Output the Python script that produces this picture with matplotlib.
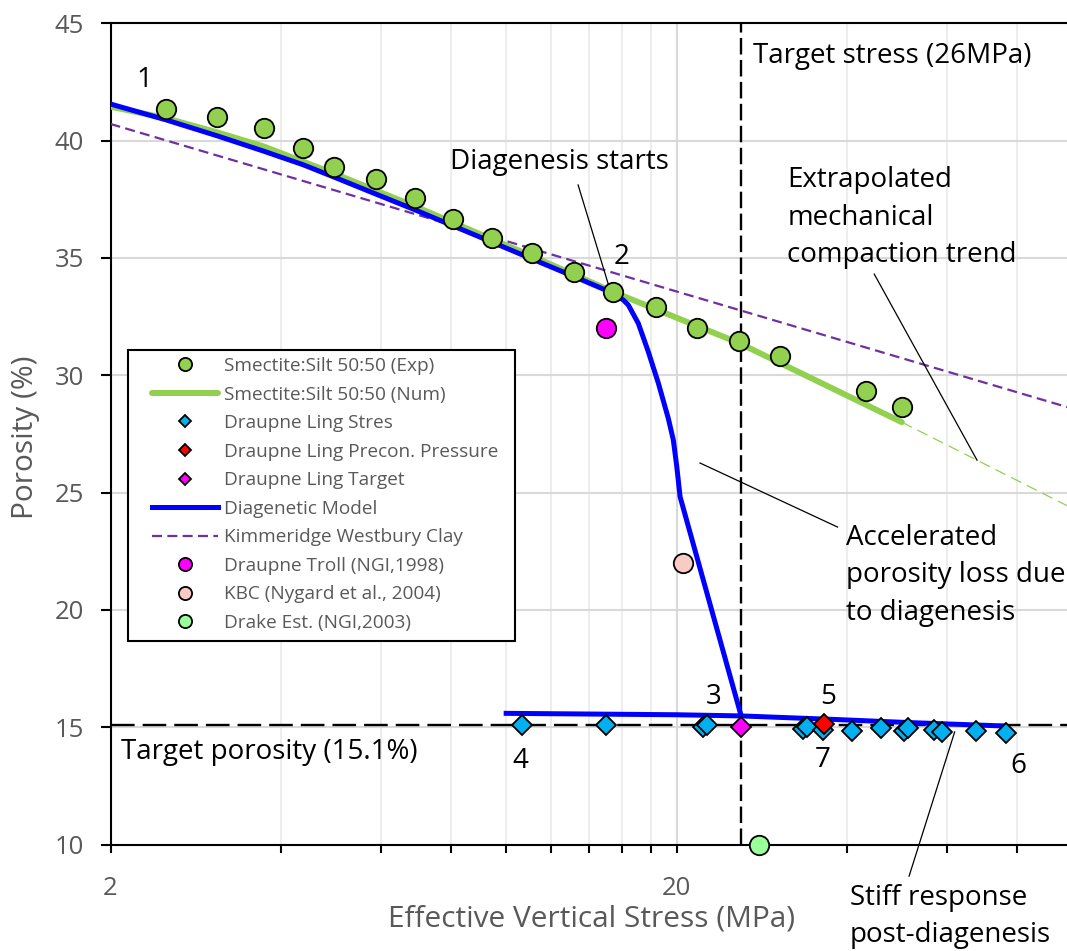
import matplotlib
matplotlib.use("Agg")
import matplotlib.pyplot as plt
from matplotlib.patches import Rectangle
import numpy as np

plt.rcParams['font.family'] = ['Open Sans', 'DejaVu Sans']

# ---------------- data ----------------
exp_x = [2.51, 3.09, 3.73, 4.38, 4.96, 5.89, 6.90, 8.05, 9.43, 11.1, 13.2, 15.46, 18.38, 21.7, 25.8, 30.5, 43.3, 50.0]
exp_y = [41.35, 41.02, 40.52, 39.70, 38.86, 38.36, 37.54, 36.66, 35.85, 35.19, 34.39, 33.55, 32.89, 32.02, 31.45, 30.81, 29.33, 28.66]

num_x = [2.0, 2.51, 3.09, 3.73, 4.96, 6.9, 9.43, 11.1, 15.46, 25.8, 50.0]
num_y = [41.45, 40.95, 40.35, 39.75, 38.6, 37.2, 35.8, 35.08, 33.55, 31.37, 28.0]
num_ext_x = [50.0, 100.0]
num_ext_y = [28.0, 24.33]

stres_x = [10.66, 14.99, 22.3, 22.66, 33.5, 33.96, 36.26, 40.8, 45.9, 50.5, 51.3, 56.9, 59.0, 67.6, 76.3]
stres_y = [15.09, 15.09, 15.02, 15.09, 14.91, 15.02, 14.88, 14.85, 14.95, 14.85, 14.95, 14.88, 14.81, 14.83, 14.77]

precon_x = [36.5]
precon_y = [15.12]

target_x = [26.0]
target_y = [15.0]

diag_x = [2.0, 2.51, 3.09, 3.73, 4.38, 4.96, 5.89, 6.9, 8.05, 9.43, 11.1, 13.2, 15.46, 16.1, 16.44,
          17.12, 17.83, 18.58, 19.34, 19.74, 20.02, 20.29, 26.0]
diag_y = [41.56, 40.88, 40.2, 39.55, 38.97, 38.45, 37.72, 37.05, 36.37, 35.68, 34.96, 34.2, 33.49, 33.21, 32.99,
          32.21, 31.0, 29.65, 28.16, 27.24, 26.1, 24.82, 15.5]
post_x = [10.0, 20.0, 26.0, 38.0, 51.0, 76.0]
post_y = [15.59, 15.53, 15.48, 15.33, 15.2, 15.05]

kim_x = [2.0, 100.0]
kim_y = [40.71, 28.58]

troll_x, troll_y = [15.0], [32.0]
kbc_x, kbc_y = [20.5], [22.0]
drake_x, drake_y = [28.0], [10.0]

target_stress = 26.0
target_porosity = 15.1

xmajor = [2, 20]
xminor = [4, 6, 8, 10, 12, 14, 16, 18, 40, 60, 80]
yticks = [10, 15, 20, 25, 30, 35, 40, 45]

# ---------------- figure ----------------
W, H = 1067, 951
fig = plt.figure(figsize=(W / 100, H / 100), dpi=100)
ax_l, ax_r, ax_t, ax_b = 110.5, 1072.2, 23.3, 844.5
AW, AH = ax_r - ax_l, ax_b - ax_t
ax = fig.add_axes([ax_l / W, 1 - ax_b / H, AW / W, AH / H])
ax.set_xscale('log')
ax.set_xlim(2, 100)
ax.set_ylim(10, 45)

gray = '#595959'
ax.set_xticks(xmajor)
ax.set_xticklabels([str(v) for v in xmajor])
ax.set_xticks(xminor, minor=True)
ax.xaxis.set_minor_formatter(matplotlib.ticker.NullFormatter())
ax.set_yticks(yticks)
ax.set_yticklabels([str(v) for v in yticks])
ax.tick_params(axis='both', which='both', direction='out', color='black', width=1.5,
               labelcolor=gray, labelsize=18.5)
ax.tick_params(axis='y', length=7, pad=12)
ax.tick_params(axis='x', which='both', length=6, pad=17)

ax.grid(which='major', axis='both', color='#D9D9D9', lw=1.5, zorder=0)
ax.grid(which='minor', axis='x', color='#EDEDED', lw=1.5, zorder=0)
ax.set_axisbelow(True)
for s in ax.spines.values():
    s.set_linewidth(1.5)
    s.set_color('black')

# target lines
ax.axvline(target_stress, color='black', lw=1.7, ls=(0, (7, 2.3)), zorder=2)
ax.axhline(target_porosity, color='black', lw=1.7, ls=(0, (10, 3.4)), zorder=2)

# lines
l_kim, = ax.plot(kim_x, kim_y, color='#7030A0', lw=1.6, ls=(0, (4.5, 2.4)), zorder=3,
                 label='Kimmeridge Westbury Clay')
ax.plot(num_ext_x, num_ext_y, color='#92D050', lw=0.9, ls=(0, (9, 5)), zorder=3)
l_num, = ax.plot(num_x, num_y, color='#92D050', lw=4.3, solid_capstyle='round', zorder=3,
                 label='Smectite:Silt 50:50 (Num)')
l_diag, = ax.plot(diag_x, diag_y, color='#0000FF', lw=3.6, zorder=4, label='Diagenetic Model')
ax.plot(post_x, post_y, color='#0000FF', lw=3.6, zorder=4)

# markers
mk = dict(ls='none', mec='black', mew=1.3, zorder=6)
h_exp, = ax.plot(exp_x, exp_y, marker='o', ms=14, mfc='#92D050', label='Smectite:Silt 50:50 (Exp)', **mk)
h_st, = ax.plot(stres_x, stres_y, marker='D', ms=10, mfc='#00B0F0', label='Draupne Ling Stres', **mk)
h_pc, = ax.plot(precon_x, precon_y, marker='D', ms=10.5, mfc='#FF0000', label='Draupne Ling Precon. Pressure', **mk)
h_tg, = ax.plot(target_x, target_y, marker='D', ms=10, mfc='#FF00FF', label='Draupne Ling Target', **mk)
h_tr, = ax.plot(troll_x, troll_y, marker='o', ms=14, mfc='#FF00FF', label='Draupne Troll (NGI,1998)', **mk)
h_kb, = ax.plot(kbc_x, kbc_y, marker='o', ms=14, mfc='#F8CBC4', label='KBC (Nygard et al., 2004)', **mk)
h_dr, = ax.plot(drake_x, drake_y, marker='o', ms=14, mfc='#99FF99', label='Drake Est. (NGI,2003)',
                clip_on=False, **mk)

# legend (frame drawn as a rectangle)
box_l, box_r, box_t, box_b = 128, 515, 350, 641
ax.add_patch(Rectangle(((box_l - ax_l) / AW, (ax_b - box_b) / AH), (box_r - box_l) / AW,
                       (box_b - box_t) / AH, transform=ax.transAxes, facecolor='white',
                       edgecolor='black', lw=1.5, zorder=9))
handles = [h_exp, l_num, h_st, h_pc, h_tg, l_diag, l_kim, h_tr, h_kb, h_dr]
labels = [h.get_label() for h in handles]
lfs = 13.7
lpx = lfs / 72 * 100
leg = ax.legend(handles, labels, loc='upper left',
                bbox_to_anchor=((152 - ax_l) / AW, (ax_b - 357) / AH),
                fontsize=lfs, frameon=False,
                handlelength=66 / lpx, handletextpad=6 / lpx, labelspacing=0.555, borderpad=0,
                borderaxespad=0)
for t in leg.get_texts():
    t.set_color(gray)
for h in leg.legend_handles:
    if h.get_marker() == 'o':
        h.set_markersize(9.5)
    elif h.get_marker() == 'D':
        h.set_markersize(6.6)
leg.set_zorder(10)

# axis labels
ax.set_xlabel('Effective Vertical Stress (MPa)', fontsize=21.5, color=gray)
ax.xaxis.set_label_coords(0.5, (ax_b - 919) / AH)
ax.xaxis.label.set_va('center')
ax.set_ylabel('Porosity (%)', fontsize=21.5, color=gray)
ax.yaxis.set_label_coords((26 - ax_l) / AW, (ax_b - 437) / AH)
ax.yaxis.label.set_va('center')

# annotations
fs = 20
nums = [('1', 2.30, 42.58), ('2', 16.0, 35.04), ('3', 23.3, 16.28), ('4', 10.6, 13.55),
        ('5', 37.0, 16.28), ('6', 80.2, 13.33), ('7', 36.2, 13.6)]
for s, x, y in nums:
    ax.text(x, y, s, fontsize=fs, ha='center', va='center', zorder=7)

ax.text(27.3, 43.6, 'Target stress (26MPa)', fontsize=fs, ha='left', va='center')
ax.text(7.96, 39.08, 'Diagenesis starts', fontsize=fs, ha='left', va='center')
ax.text(31.4, 36.72, 'Extrapolated\nmechanical\ncompaction trend', fontsize=fs, ha='left', va='center',
        linespacing=1.45)
ax.text(39.9, 21.48, 'Accelerated\nporosity loss due\nto diagenesis', fontsize=fs, ha='left', va='center',
        linespacing=1.45, zorder=7)
ax.text(2.09, 13.94, 'Target porosity (15.1%)', fontsize=fs, ha='left', va='center')
ax.text(40.5, 6.93, 'Stiff response\npost-diagenesis', fontsize=fs, ha='left', va='center',
        linespacing=1.45, clip_on=False)

lk = dict(color='black', lw=0.9, zorder=5)
ax.plot([13.4, 15.2], [38.11, 33.77], **lk)
ax.plot([44.7, 67.9], [34.31, 26.38], **lk)
ax.plot([22.0, 38.5], [26.26, 23.53], **lk)
ax.plot([51.5, 62.0], [8.65, 14.8], clip_on=False, **lk)

fig.savefig('out.png', dpi=100)
